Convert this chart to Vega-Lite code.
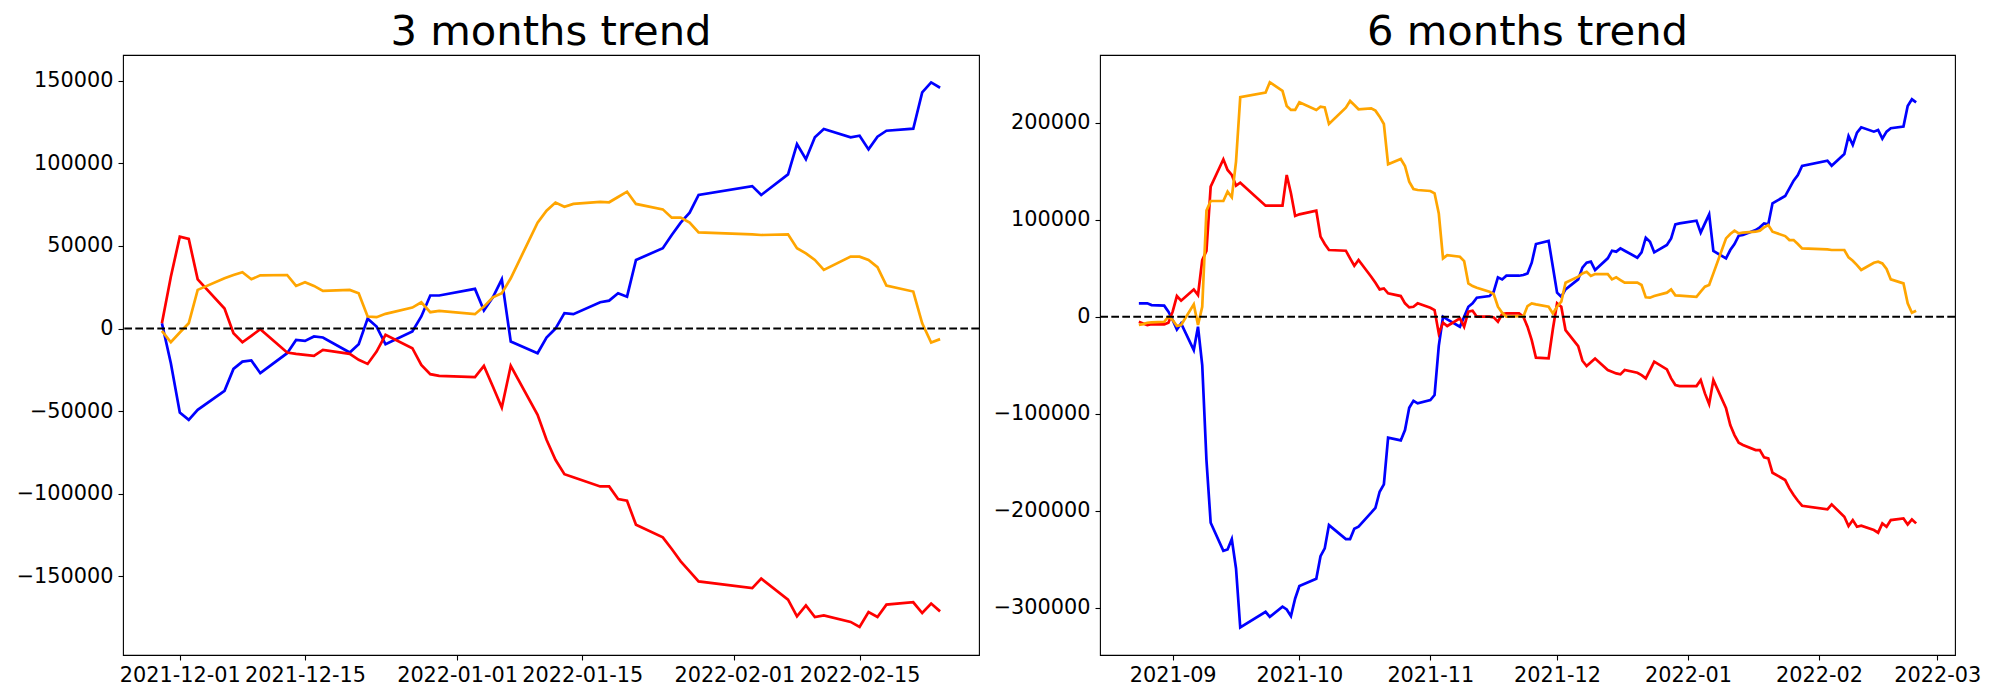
{
 "$schema": "https://vega.github.io/schema/vega-lite/v6.json",
 "padding": {"left": 0, "top": 11, "right": 0, "bottom": 0},
 "spacing": 11,
 "config": {
  "font": "DejaVu Sans",
  "view": {"stroke": "#000000", "strokeWidth": 1.1},
  "axis": {"grid": false, "domain": false, "tickColor": "#000000", "tickSize": 5, "tickWidth": 1.1, "labelColor": "#000000", "labelFontSize": 20.8, "labelPadding": 5, "labelFont": "DejaVu Sans", "labelOverlap": false, "labelFlush": false, "title": null},
  "title": {"fontSize": 41.7, "font": "DejaVu Sans", "fontWeight": "normal", "color": "#000000", "baseline": "alphabetic", "offset": 1, "anchor": "middle"}
 },
 "datasets": {
  "m3": [
   {"d":"2021-11-29","b":3200,"r":3200,"o":-1400},
   {"d":"2021-11-30","b":-21000,"r":31400,"o":-8300},
   {"d":"2021-12-01","b":-50800,"r":55600,"o":-2400},
   {"d":"2021-12-02","b":-55200,"r":54200,"o":3200},
   {"d":"2021-12-03","b":-49200,"r":29800,"o":23400},
   {"d":"2021-12-06","b":-37700,"r":12100,"o":30400},
   {"d":"2021-12-07","b":-24400,"r":-2800,"o":32400},
   {"d":"2021-12-08","b":-20000,"r":-8300,"o":34100},
   {"d":"2021-12-09","b":-19300,"r":-4400,"o":29800},
   {"d":"2021-12-10","b":-27000,"r":-400,"o":32200},
   {"d":"2021-12-13","b":-14900,"r":-14500,"o":32400},
   {"d":"2021-12-14","b":-6900,"r":-15300,"o":25800},
   {"d":"2021-12-15","b":-7500,"r":-15900,"o":28000},
   {"d":"2021-12-16","b":-4800,"r":-16500,"o":25800},
   {"d":"2021-12-17","b":-5400,"r":-12900,"o":22800},
   {"d":"2021-12-20","b":-14500,"r":-15300,"o":23400},
   {"d":"2021-12-21","b":-9500,"r":-18900,"o":21400},
   {"d":"2021-12-22","b":6000,"r":-21400,"o":7300},
   {"d":"2021-12-23","b":1200,"r":-13900,"o":6900},
   {"d":"2021-12-24","b":-9500,"r":-3800,"o":8900},
   {"d":"2021-12-27","b":-1800,"r":-11900,"o":12700},
   {"d":"2021-12-28","b":7300,"r":-22000,"o":15900},
   {"d":"2021-12-29","b":20000,"r":-27600,"o":9900},
   {"d":"2021-12-30","b":20000,"r":-28600,"o":10700},
   {"d":"2022-01-03","b":24000,"r":-29400,"o":8700},
   {"d":"2022-01-04","b":10900,"r":-22600,"o":13300},
   {"d":"2022-01-05","b":18900,"r":-35100,"o":18900},
   {"d":"2022-01-06","b":29800,"r":-47800,"o":21400},
   {"d":"2022-01-07","b":-7900,"r":-22600,"o":30400},
   {"d":"2022-01-10","b":-14900,"r":-52200,"o":64100},
   {"d":"2022-01-11","b":-5400,"r":-67300,"o":71300},
   {"d":"2022-01-12","b":0,"r":-79400,"o":76200},
   {"d":"2022-01-13","b":9300,"r":-88100,"o":73700},
   {"d":"2022-01-14","b":8700,"r":-90000,"o":75400},
   {"d":"2022-01-17","b":15900,"r":-95500,"o":76600},
   {"d":"2022-01-18","b":16900,"r":-95500,"o":76400},
   {"d":"2022-01-19","b":21400,"r":-103200,"o":79600},
   {"d":"2022-01-20","b":19300,"r":-104200,"o":82800},
   {"d":"2022-01-21","b":41500,"r":-118700,"o":75400},
   {"d":"2022-01-24","b":48600,"r":-126300,"o":72100},
   {"d":"2022-01-25","b":56600,"r":-133400,"o":67100},
   {"d":"2022-01-26","b":64100,"r":-140800,"o":67100},
   {"d":"2022-01-27","b":70100,"r":-146900,"o":64100},
   {"d":"2022-01-28","b":80800,"r":-153000,"o":58200},
   {"d":"2022-02-03","b":86200,"r":-157000,"o":57000},
   {"d":"2022-02-04","b":80800,"r":-151300,"o":56600},
   {"d":"2022-02-07","b":93300,"r":-164000,"o":57000},
   {"d":"2022-02-08","b":111600,"r":-174100,"o":48600},
   {"d":"2022-02-09","b":102400,"r":-167500,"o":45500},
   {"d":"2022-02-10","b":115700,"r":-174500,"o":41500},
   {"d":"2022-02-11","b":120700,"r":-173500,"o":35500},
   {"d":"2022-02-14","b":115700,"r":-177500,"o":43500},
   {"d":"2022-02-15","b":116700,"r":-180500,"o":43500},
   {"d":"2022-02-16","b":108400,"r":-171500,"o":41500},
   {"d":"2022-02-17","b":116100,"r":-174500,"o":37100},
   {"d":"2022-02-18","b":119700,"r":-167000,"o":26000},
   {"d":"2022-02-21","b":120900,"r":-165600,"o":22400},
   {"d":"2022-02-22","b":142900,"r":-172100,"o":3200},
   {"d":"2022-02-23","b":148900,"r":-166400,"o":-8500},
   {"d":"2022-02-24","b":145700,"r":-171100,"o":-6400}
  ],
  "m6": [
   {"d":"2021-08-24","b":13800,"r":-5200,"o":-8600},
   {"d":"2021-08-25","b":13800,"r":-6900,"o":-7600},
   {"d":"2021-08-26","b":13800,"r":-8600,"o":-6200},
   {"d":"2021-08-27","b":12000,"r":-7600,"o":-5800},
   {"d":"2021-08-30","b":11400,"r":-7900,"o":-5200},
   {"d":"2021-08-31","b":5200,"r":-6200,"o":0},
   {"d":"2021-09-01","b":-3400,"r":5200,"o":-3400},
   {"d":"2021-09-02","b":-13100,"r":21300,"o":-9600},
   {"d":"2021-09-03","b":-6900,"r":16500,"o":-8600},
   {"d":"2021-09-06","b":-34400,"r":28200,"o":12700},
   {"d":"2021-09-07","b":-10300,"r":22400,"o":-8600},
   {"d":"2021-09-08","b":-49800,"r":58500,"o":10300},
   {"d":"2021-09-09","b":-147900,"r":67800,"o":109400},
   {"d":"2021-09-10","b":-212600,"r":134200,"o":119400},
   {"d":"2021-09-13","b":-241500,"r":162400,"o":119400},
   {"d":"2021-09-14","b":-240100,"r":151400,"o":129000},
   {"d":"2021-09-15","b":-229400,"r":146200,"o":123200},
   {"d":"2021-09-16","b":-259700,"r":135200,"o":160000},
   {"d":"2021-09-17","b":-320600,"r":138300,"o":226400},
   {"d":"2021-09-23","b":-304400,"r":114600,"o":231200},
   {"d":"2021-09-24","b":-309600,"r":114600,"o":241800},
   {"d":"2021-09-27","b":-299200,"r":114600,"o":232900},
   {"d":"2021-09-28","b":-302000,"r":146200,"o":217400},
   {"d":"2021-09-29","b":-308900,"r":127300,"o":213300},
   {"d":"2021-09-30","b":-290700,"r":103900,"o":213300},
   {"d":"2021-10-01","b":-277900,"r":105600,"o":221200},
   {"d":"2021-10-05","b":-270400,"r":109400,"o":213300},
   {"d":"2021-10-06","b":-247000,"r":82600,"o":216700},
   {"d":"2021-10-07","b":-239000,"r":75000,"o":216000},
   {"d":"2021-10-08","b":-215000,"r":68800,"o":198800},
   {"d":"2021-10-12","b":-229400,"r":68100,"o":215700},
   {"d":"2021-10-13","b":-229400,"r":60200,"o":222600},
   {"d":"2021-10-14","b":-218800,"r":52600,"o":218400},
   {"d":"2021-10-15","b":-216700,"r":58500,"o":214000},
   {"d":"2021-10-18","b":-202200,"r":41300,"o":215000},
   {"d":"2021-10-19","b":-197100,"r":35100,"o":212600},
   {"d":"2021-10-20","b":-180600,"r":28200,"o":206400},
   {"d":"2021-10-21","b":-173000,"r":29200,"o":198800},
   {"d":"2021-10-22","b":-124800,"r":24100,"o":157200},
   {"d":"2021-10-25","b":-127600,"r":21300,"o":162700},
   {"d":"2021-10-26","b":-116900,"r":13800,"o":155500},
   {"d":"2021-10-27","b":-93900,"r":9600,"o":139300},
   {"d":"2021-10-28","b":-86700,"r":10300,"o":131800},
   {"d":"2021-10-29","b":-89400,"r":13800,"o":130700},
   {"d":"2021-11-01","b":-86000,"r":9300,"o":129700},
   {"d":"2021-11-02","b":-80800,"r":6900,"o":127300},
   {"d":"2021-11-03","b":-30000,"r":-17200,"o":106600},
   {"d":"2021-11-04","b":0,"r":-6200,"o":60200},
   {"d":"2021-11-05","b":-2800,"r":-9600,"o":63600},
   {"d":"2021-11-08","b":-10300,"r":-1700,"o":61900},
   {"d":"2021-11-09","b":0,"r":-10300,"o":57400},
   {"d":"2021-11-10","b":10300,"r":5200,"o":34400},
   {"d":"2021-11-11","b":13800,"r":6200,"o":31600},
   {"d":"2021-11-12","b":19600,"r":0,"o":29900},
   {"d":"2021-11-15","b":21300,"r":0,"o":25800},
   {"d":"2021-11-16","b":25800,"r":-700,"o":23400},
   {"d":"2021-11-17","b":40600,"r":-5200,"o":10300},
   {"d":"2021-11-18","b":38500,"r":2800,"o":4100},
   {"d":"2021-11-19","b":42300,"r":3400,"o":0},
   {"d":"2021-11-22","b":42300,"r":3400,"o":700},
   {"d":"2021-11-23","b":43000,"r":0,"o":0},
   {"d":"2021-11-24","b":44700,"r":-10300,"o":11000},
   {"d":"2021-11-25","b":55700,"r":-24100,"o":13800},
   {"d":"2021-11-26","b":75000,"r":-42300,"o":12700},
   {"d":"2021-11-29","b":78100,"r":-43000,"o":10300},
   {"d":"2021-11-30","b":51600,"r":-13000,"o":3400},
   {"d":"2021-12-01","b":24800,"r":13800,"o":10300},
   {"d":"2021-12-02","b":20600,"r":10300,"o":15500},
   {"d":"2021-12-03","b":28200,"r":-13800,"o":35100},
   {"d":"2021-12-06","b":38500,"r":-30300,"o":41300},
   {"d":"2021-12-07","b":50600,"r":-45400,"o":44700},
   {"d":"2021-12-08","b":55700,"r":-50900,"o":46400},
   {"d":"2021-12-09","b":56800,"r":-47100,"o":42000},
   {"d":"2021-12-10","b":48200,"r":-43100,"o":44000},
   {"d":"2021-12-13","b":60200,"r":-55000,"o":44000},
   {"d":"2021-12-14","b":68100,"r":-56700,"o":38500},
   {"d":"2021-12-15","b":67100,"r":-58500,"o":40600},
   {"d":"2021-12-16","b":70500,"r":-59500,"o":37800},
   {"d":"2021-12-17","b":68100,"r":-55000,"o":35100},
   {"d":"2021-12-20","b":60900,"r":-57800,"o":35100},
   {"d":"2021-12-21","b":66400,"r":-60200,"o":32700},
   {"d":"2021-12-22","b":81500,"r":-63600,"o":20000},
   {"d":"2021-12-23","b":77400,"r":-55000,"o":19600},
   {"d":"2021-12-24","b":66400,"r":-46400,"o":21300},
   {"d":"2021-12-27","b":74000,"r":-54300,"o":24800},
   {"d":"2021-12-28","b":80800,"r":-63600,"o":28200},
   {"d":"2021-12-29","b":95300,"r":-70500,"o":22000},
   {"d":"2021-12-30","b":96300,"r":-71600,"o":21700},
   {"d":"2022-01-03","b":99100,"r":-71600,"o":20600},
   {"d":"2022-01-04","b":86700,"r":-65400,"o":25800},
   {"d":"2022-01-05","b":96300,"r":-79100,"o":31000},
   {"d":"2022-01-06","b":105600,"r":-90100,"o":32700},
   {"d":"2022-01-07","b":67800,"r":-65400,"o":44700},
   {"d":"2022-01-10","b":60200,"r":-94500,"o":80800},
   {"d":"2022-01-11","b":68800,"r":-111800,"o":85300},
   {"d":"2022-01-12","b":75000,"r":-122100,"o":88800},
   {"d":"2022-01-13","b":83600,"r":-130000,"o":86000},
   {"d":"2022-01-14","b":84300,"r":-132400,"o":86700},
   {"d":"2022-01-17","b":89400,"r":-137600,"o":87700},
   {"d":"2022-01-18","b":92200,"r":-137600,"o":88800},
   {"d":"2022-01-19","b":96300,"r":-145100,"o":92200},
   {"d":"2022-01-20","b":95300,"r":-146200,"o":94600},
   {"d":"2022-01-21","b":117000,"r":-161000,"o":87700},
   {"d":"2022-01-24","b":124500,"r":-168500,"o":83200},
   {"d":"2022-01-25","b":132400,"r":-177100,"o":79100},
   {"d":"2022-01-26","b":140400,"r":-184000,"o":79100},
   {"d":"2022-01-27","b":146200,"r":-189900,"o":75000},
   {"d":"2022-01-28","b":155500,"r":-195000,"o":70500},
   {"d":"2022-02-03","b":161000,"r":-198800,"o":69500},
   {"d":"2022-02-04","b":155800,"r":-193600,"o":68800},
   {"d":"2022-02-07","b":167900,"r":-206400,"o":68800},
   {"d":"2022-02-08","b":186400,"r":-216000,"o":61200},
   {"d":"2022-02-09","b":177200,"r":-209800,"o":57800},
   {"d":"2022-02-10","b":189900,"r":-216700,"o":53300},
   {"d":"2022-02-11","b":195400,"r":-215600,"o":48200},
   {"d":"2022-02-14","b":190900,"r":-220100,"o":55700},
   {"d":"2022-02-15","b":192600,"r":-222800,"o":56800},
   {"d":"2022-02-16","b":183700,"r":-213200,"o":55000},
   {"d":"2022-02-17","b":190900,"r":-216700,"o":49200},
   {"d":"2022-02-18","b":194400,"r":-209800,"o":38500},
   {"d":"2022-02-21","b":196100,"r":-208100,"o":34400},
   {"d":"2022-02-22","b":217400,"r":-214300,"o":13800},
   {"d":"2022-02-23","b":224300,"r":-209100,"o":4100},
   {"d":"2022-02-24","b":221200,"r":-213200,"o":6200}
  ]
 },
 "hconcat": [
  {
   "title": "3 months trend",
   "width": 856,
   "height": 600,
   "layer": [
    {
     "data": {"name": "m3"},
     "transform": [{"fold": ["b", "r", "o"], "as": ["s", "v"]}],
     "mark": {"type": "line", "strokeWidth": 2.7},
     "encoding": {
      "x": {"field": "d", "type": "temporal",
            "scale": {"type": "utc", "domain": [{"year": 2021, "month": 11, "date": 24, "hours": 15, "minutes": 36, "utc": true}, {"year": 2022, "month": 2, "date": 28, "hours": 8, "minutes": 24, "utc": true}]},
            "axis": {"format": "%Y-%m-%d", "values": [{"year": 2021, "month": 12, "date": 1, "utc": true}, {"year": 2021, "month": 12, "date": 15, "utc": true}, {"year": 2022, "month": 1, "date": 1, "utc": true}, {"year": 2022, "month": 1, "date": 15, "utc": true}, {"year": 2022, "month": 2, "date": 1, "utc": true}, {"year": 2022, "month": 2, "date": 15, "utc": true}]}},
      "y": {"field": "v", "type": "quantitative",
            "scale": {"domain": [-197500, 165500], "nice": false, "zero": false},
            "axis": {"format": "d", "values": [-150000, -100000, -50000, 0, 50000, 100000, 150000], "minExtent": 122, "maxExtent": 122}},
      "color": {"field": "s", "type": "nominal", "scale": {"domain": ["b", "r", "o"], "range": ["#0000ff", "#ff0000", "#ffa500"]}, "legend": null}
     }
    },
    {
     "data": {"values": [{}]},
     "mark": {"type": "rule", "color": "#000000", "strokeDash": [7.7, 3.3], "strokeWidth": 2.08},
     "encoding": {"y": {"datum": 0, "type": "quantitative"}}
    }
   ]
  },
  {
   "title": "6 months trend",
   "width": 855,
   "height": 600,
   "layer": [
    {
     "data": {"name": "m6"},
     "transform": [{"fold": ["b", "r", "o"], "as": ["s", "v"]}],
     "mark": {"type": "line", "strokeWidth": 2.7},
     "encoding": {
      "x": {"field": "d", "type": "temporal",
            "scale": {"type": "utc", "domain": [{"year": 2021, "month": 8, "date": 14, "hours": 19, "minutes": 12, "utc": true}, {"year": 2022, "month": 3, "date": 5, "hours": 4, "minutes": 48, "utc": true}]},
            "axis": {"format": "%Y-%m", "values": [{"year": 2021, "month": 9, "date": 1, "utc": true}, {"year": 2021, "month": 10, "date": 1, "utc": true}, {"year": 2021, "month": 11, "date": 1, "utc": true}, {"year": 2021, "month": 12, "date": 1, "utc": true}, {"year": 2022, "month": 1, "date": 1, "utc": true}, {"year": 2022, "month": 2, "date": 1, "utc": true}, {"year": 2022, "month": 3, "date": 1, "utc": true}]}},
      "y": {"field": "v", "type": "quantitative",
            "scale": {"domain": [-349000, 270000], "nice": false, "zero": false},
            "axis": {"format": "d", "values": [-300000, -200000, -100000, 0, 100000, 200000], "minExtent": 107, "maxExtent": 107}},
      "color": {"field": "s", "type": "nominal", "scale": {"domain": ["b", "r", "o"], "range": ["#0000ff", "#ff0000", "#ffa500"]}, "legend": null}
     }
    },
    {
     "data": {"values": [{}]},
     "mark": {"type": "rule", "color": "#000000", "strokeDash": [7.7, 3.3], "strokeWidth": 2.08},
     "encoding": {"y": {"datum": 0, "type": "quantitative"}}
    }
   ]
  }
 ]
}
